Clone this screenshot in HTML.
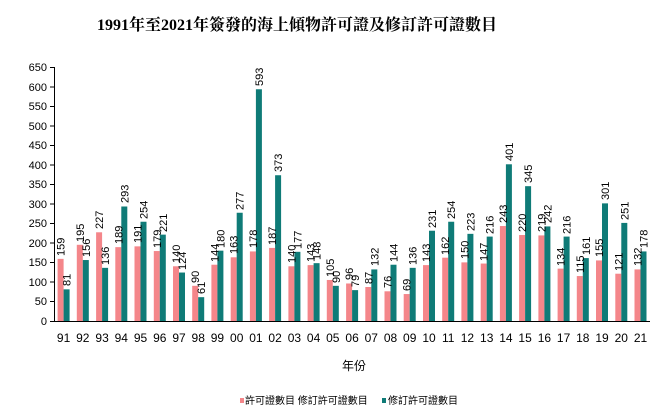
<!DOCTYPE html>
<html><head><meta charset="utf-8"><style>
body{margin:0;background:#fff;}
svg{display:block;font-family:"Liberation Sans","Noto Sans CJK TC",sans-serif;}
.a{fill:#f4868a}.b{fill:#0f7b77}
.v{font-size:11px;fill:#000}
.t{font-size:11px;fill:#000}
</style></head><body>
<svg width="662" height="420" viewBox="0 0 662 420">
<text x="297" y="30" text-anchor="middle" style="font-family:'Liberation Serif','Noto Serif CJK SC',serif;font-size:16px;font-weight:bold">1991年至2021年簽發的海上傾物許可證及修訂許可證數目</text>
<g stroke="#000" stroke-width="1">
<line x1="54.5" y1="67" x2="54.5" y2="321"/>
<line x1="54" y1="321.5" x2="650" y2="321.5"/>
<line x1="50" y1="67.5" x2="54" y2="67.5"/><line x1="50" y1="87" x2="54" y2="87"/><line x1="50" y1="106.5" x2="54" y2="106.5"/><line x1="50" y1="126" x2="54" y2="126"/><line x1="50" y1="145.5" x2="54" y2="145.5"/><line x1="50" y1="165" x2="54" y2="165"/><line x1="50" y1="184.5" x2="54" y2="184.5"/><line x1="50" y1="204" x2="54" y2="204"/><line x1="50" y1="223.5" x2="54" y2="223.5"/><line x1="50" y1="243" x2="54" y2="243"/><line x1="50" y1="262.5" x2="54" y2="262.5"/><line x1="50" y1="282" x2="54" y2="282"/><line x1="50" y1="301.5" x2="54" y2="301.5"/><line x1="50" y1="321.5" x2="54" y2="321.5"/>
</g>
<g class="t" text-anchor="end">
<text x="47" y="71">650</text><text x="47" y="91">600</text><text x="47" y="110">550</text><text x="47" y="130">500</text><text x="47" y="149">450</text><text x="47" y="169">400</text><text x="47" y="188">350</text><text x="47" y="208">300</text><text x="47" y="227">250</text><text x="47" y="247">200</text><text x="47" y="266">150</text><text x="47" y="286">100</text><text x="47" y="305">50</text><text x="47" y="325">0</text>
</g>
<g class="t" text-anchor="middle" style="font-size:12px">
<text x="63.6" y="342">91</text><text x="82.8" y="342">92</text><text x="102.1" y="342">93</text><text x="121.3" y="342">94</text><text x="140.5" y="342">95</text><text x="159.8" y="342">96</text><text x="179" y="342">97</text><text x="198.2" y="342">98</text><text x="217.4" y="342">99</text><text x="236.7" y="342">00</text><text x="255.9" y="342">01</text><text x="275.1" y="342">02</text><text x="294.4" y="342">03</text><text x="313.6" y="342">04</text><text x="332.8" y="342">05</text><text x="352.1" y="342">06</text><text x="371.3" y="342">07</text><text x="390.5" y="342">08</text><text x="409.7" y="342">09</text><text x="429" y="342">10</text><text x="448.2" y="342">11</text><text x="467.4" y="342">12</text><text x="486.7" y="342">13</text><text x="505.9" y="342">14</text><text x="525.1" y="342">15</text><text x="544.4" y="342">16</text><text x="563.6" y="342">17</text><text x="582.8" y="342">18</text><text x="602" y="342">19</text><text x="621.3" y="342">20</text><text x="640.5" y="342">21</text>
</g>
<g class="v">
<g transform="translate(63.6,321)"><g transform="scale(1,-0.3908)"><rect class="a" x="-6" width="6" height="159"/><rect class="b" x="0" width="6" height="81"/></g><text transform="rotate(-90)" x="65" y="1">159</text><text transform="rotate(-90)" x="35" y="7">81</text></g>
<g transform="translate(82.8,321)"><g transform="scale(1,-0.3908)"><rect class="a" x="-6" width="6" height="195"/><rect class="b" x="0" width="6" height="156"/></g><text transform="rotate(-90)" x="79" y="1">195</text><text transform="rotate(-90)" x="64" y="7">156</text></g>
<g transform="translate(102.1,321)"><g transform="scale(1,-0.3908)"><rect class="a" x="-6" width="6" height="227"/><rect class="b" x="0" width="6" height="136"/></g><text transform="rotate(-90)" x="92" y="1">227</text><text transform="rotate(-90)" x="56" y="7">136</text></g>
<g transform="translate(121.3,321)"><g transform="scale(1,-0.3908)"><rect class="a" x="-6" width="6" height="189"/><rect class="b" x="0" width="6" height="293"/></g><text transform="rotate(-90)" x="77" y="1">189</text><text transform="rotate(-90)" x="118" y="7">293</text></g>
<g transform="translate(140.5,321)"><g transform="scale(1,-0.3908)"><rect class="a" x="-6" width="6" height="191"/><rect class="b" x="0" width="6" height="254"/></g><text transform="rotate(-90)" x="78" y="1">191</text><text transform="rotate(-90)" x="102" y="7">254</text></g>
<g transform="translate(159.8,321)"><g transform="scale(1,-0.3908)"><rect class="a" x="-6" width="6" height="179"/><rect class="b" x="0" width="6" height="221"/></g><text transform="rotate(-90)" x="73" y="1">179</text><text transform="rotate(-90)" x="89" y="7">221</text></g>
<g transform="translate(179,321)"><g transform="scale(1,-0.3908)"><rect class="a" x="-6" width="6" height="140"/><rect class="b" x="0" width="6" height="124"/></g><text transform="rotate(-90)" x="58" y="1">140</text><text transform="rotate(-90)" x="51" y="7">124</text></g>
<g transform="translate(198.2,321)"><g transform="scale(1,-0.3908)"><rect class="a" x="-6" width="6" height="90"/><rect class="b" x="0" width="6" height="61"/></g><text transform="rotate(-90)" x="38" y="1">90</text><text transform="rotate(-90)" x="27" y="7">61</text></g>
<g transform="translate(217.4,321)"><g transform="scale(1,-0.3908)"><rect class="a" x="-6" width="6" height="144"/><rect class="b" x="0" width="6" height="180"/></g><text transform="rotate(-90)" x="59" y="1">144</text><text transform="rotate(-90)" x="73" y="7">180</text></g>
<g transform="translate(236.7,321)"><g transform="scale(1,-0.3908)"><rect class="a" x="-6" width="6" height="163"/><rect class="b" x="0" width="6" height="277"/></g><text transform="rotate(-90)" x="67" y="1">163</text><text transform="rotate(-90)" x="111" y="7">277</text></g>
<g transform="translate(255.9,321)"><g transform="scale(1,-0.3908)"><rect class="a" x="-6" width="6" height="178"/><rect class="b" x="0" width="6" height="593"/></g><text transform="rotate(-90)" x="73" y="1">178</text><text transform="rotate(-90)" x="235" y="7">593</text></g>
<g transform="translate(275.1,321)"><g transform="scale(1,-0.3908)"><rect class="a" x="-6" width="6" height="187"/><rect class="b" x="0" width="6" height="373"/></g><text transform="rotate(-90)" x="76" y="1">187</text><text transform="rotate(-90)" x="149" y="7">373</text></g>
<g transform="translate(294.4,321)"><g transform="scale(1,-0.3908)"><rect class="a" x="-6" width="6" height="140"/><rect class="b" x="0" width="6" height="177"/></g><text transform="rotate(-90)" x="58" y="1">140</text><text transform="rotate(-90)" x="72" y="7">177</text></g>
<g transform="translate(313.6,321)"><g transform="scale(1,-0.3908)"><rect class="a" x="-6" width="6" height="143"/><rect class="b" x="0" width="6" height="148"/></g><text transform="rotate(-90)" x="59" y="1">143</text><text transform="rotate(-90)" x="61" y="7">148</text></g>
<g transform="translate(332.8,321)"><g transform="scale(1,-0.3908)"><rect class="a" x="-6" width="6" height="105"/><rect class="b" x="0" width="6" height="90"/></g><text transform="rotate(-90)" x="44" y="1">105</text><text transform="rotate(-90)" x="38" y="7">90</text></g>
<g transform="translate(352.1,321)"><g transform="scale(1,-0.3908)"><rect class="a" x="-6" width="6" height="96"/><rect class="b" x="0" width="6" height="79"/></g><text transform="rotate(-90)" x="41" y="1">96</text><text transform="rotate(-90)" x="34" y="7">79</text></g>
<g transform="translate(371.3,321)"><g transform="scale(1,-0.3908)"><rect class="a" x="-6" width="6" height="87"/><rect class="b" x="0" width="6" height="132"/></g><text transform="rotate(-90)" x="37" y="1">87</text><text transform="rotate(-90)" x="55" y="7">132</text></g>
<g transform="translate(390.5,321)"><g transform="scale(1,-0.3908)"><rect class="a" x="-6" width="6" height="76"/><rect class="b" x="0" width="6" height="144"/></g><text transform="rotate(-90)" x="33" y="1">76</text><text transform="rotate(-90)" x="59" y="7">144</text></g>
<g transform="translate(409.7,321)"><g transform="scale(1,-0.3908)"><rect class="a" x="-6" width="6" height="69"/><rect class="b" x="0" width="6" height="136"/></g><text transform="rotate(-90)" x="30" y="1">69</text><text transform="rotate(-90)" x="56" y="7">136</text></g>
<g transform="translate(429,321)"><g transform="scale(1,-0.3908)"><rect class="a" x="-6" width="6" height="143"/><rect class="b" x="0" width="6" height="231"/></g><text transform="rotate(-90)" x="59" y="1">143</text><text transform="rotate(-90)" x="93" y="7">231</text></g>
<g transform="translate(448.2,321)"><g transform="scale(1,-0.3908)"><rect class="a" x="-6" width="6" height="162"/><rect class="b" x="0" width="6" height="254"/></g><text transform="rotate(-90)" x="66" y="1">162</text><text transform="rotate(-90)" x="102" y="7">254</text></g>
<g transform="translate(467.4,321)"><g transform="scale(1,-0.3908)"><rect class="a" x="-6" width="6" height="150"/><rect class="b" x="0" width="6" height="223"/></g><text transform="rotate(-90)" x="62" y="1">150</text><text transform="rotate(-90)" x="90" y="7">223</text></g>
<g transform="translate(486.7,321)"><g transform="scale(1,-0.3908)"><rect class="a" x="-6" width="6" height="147"/><rect class="b" x="0" width="6" height="216"/></g><text transform="rotate(-90)" x="60" y="1">147</text><text transform="rotate(-90)" x="87" y="7">216</text></g>
<g transform="translate(505.9,321)"><g transform="scale(1,-0.3908)"><rect class="a" x="-6" width="6" height="243"/><rect class="b" x="0" width="6" height="401"/></g><text transform="rotate(-90)" x="98" y="1">243</text><text transform="rotate(-90)" x="160" y="7">401</text></g>
<g transform="translate(525.1,321)"><g transform="scale(1,-0.3908)"><rect class="a" x="-6" width="6" height="220"/><rect class="b" x="0" width="6" height="345"/></g><text transform="rotate(-90)" x="89" y="1">220</text><text transform="rotate(-90)" x="138" y="7">345</text></g>
<g transform="translate(544.4,321)"><g transform="scale(1,-0.3908)"><rect class="a" x="-6" width="6" height="219"/><rect class="b" x="0" width="6" height="242"/></g><text transform="rotate(-90)" x="89" y="1">219</text><text transform="rotate(-90)" x="98" y="7">242</text></g>
<g transform="translate(563.6,321)"><g transform="scale(1,-0.3908)"><rect class="a" x="-6" width="6" height="134"/><rect class="b" x="0" width="6" height="216"/></g><text transform="rotate(-90)" x="55" y="1">134</text><text transform="rotate(-90)" x="87" y="7">216</text></g>
<g transform="translate(582.8,321)"><g transform="scale(1,-0.3908)"><rect class="a" x="-6" width="6" height="115"/><rect class="b" x="0" width="6" height="161"/></g><text transform="rotate(-90)" x="48" y="1">115</text><text transform="rotate(-90)" x="66" y="7">161</text></g>
<g transform="translate(602,321)"><g transform="scale(1,-0.3908)"><rect class="a" x="-6" width="6" height="155"/><rect class="b" x="0" width="6" height="301"/></g><text transform="rotate(-90)" x="64" y="1">155</text><text transform="rotate(-90)" x="121" y="7">301</text></g>
<g transform="translate(621.3,321)"><g transform="scale(1,-0.3908)"><rect class="a" x="-6" width="6" height="121"/><rect class="b" x="0" width="6" height="251"/></g><text transform="rotate(-90)" x="50" y="1">121</text><text transform="rotate(-90)" x="101" y="7">251</text></g>
<g transform="translate(640.5,321)"><g transform="scale(1,-0.3908)"><rect class="a" x="-6" width="6" height="132"/><rect class="b" x="0" width="6" height="178"/></g><text transform="rotate(-90)" x="55" y="1">132</text><text transform="rotate(-90)" x="73" y="7">178</text></g>
</g>
<text x="354" y="370" text-anchor="middle" style="font-size:12px">年份</text>
<rect x="240" y="398" width="4" height="5" class="a"/>
<text x="245" y="404" style="font-size:10px">許可證數目 修訂許可證數目</text>
<rect x="382" y="398" width="4" height="5" class="b"/>
<text x="388" y="404" style="font-size:10px">修訂許可證數目</text>
</svg>
</body></html>
